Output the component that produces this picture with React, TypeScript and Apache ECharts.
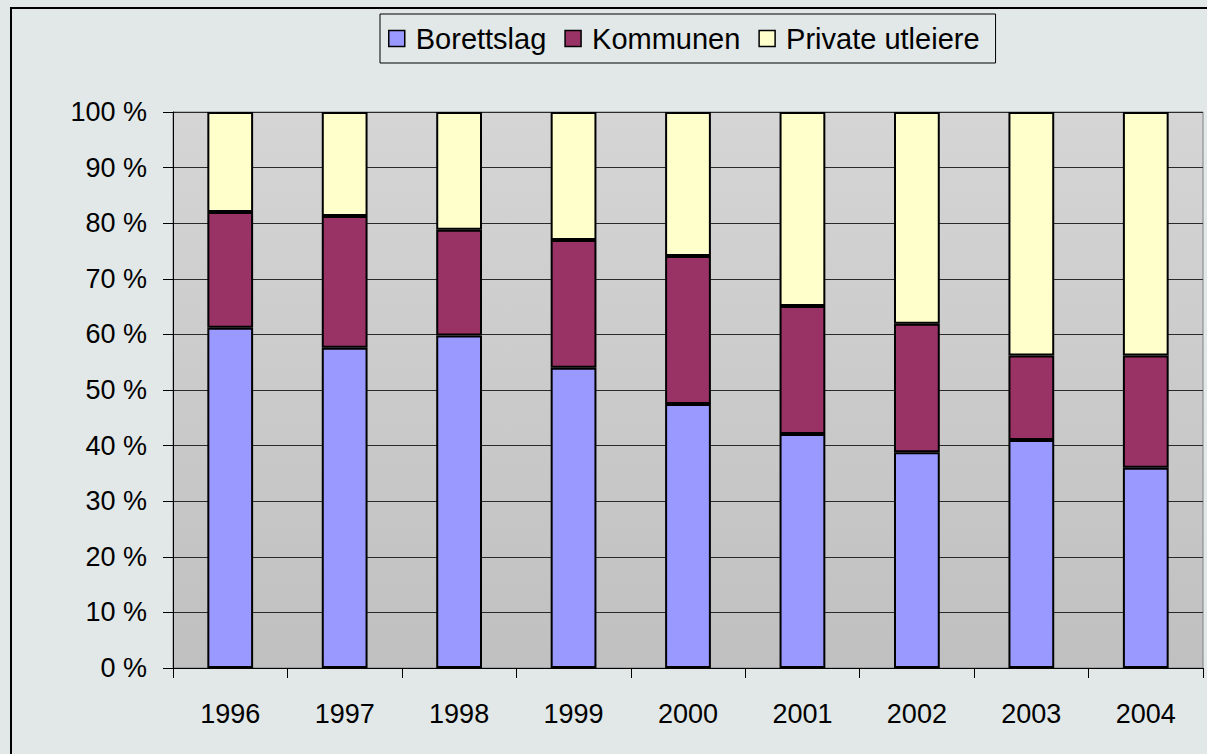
import React, { useEffect, useRef } from "react";
import * as echarts from "echarts";

const years = ["1996", "1997", "1998", "1999", "2000", "2001", "2002", "2003", "2004"];
const borettslag = [61.2, 57.6, 59.8, 54.0, 47.5, 42.1, 38.8, 41.0, 36.0];
const kommunen = [20.8, 23.7, 19.0, 23.0, 26.6, 23.0, 23.1, 15.2, 20.2];
const privateUtleiere = [18.0, 18.7, 21.2, 23.0, 25.9, 34.9, 38.1, 43.8, 43.8];

const FONT = "'Liberation Sans', Arial, sans-serif";

export default function App() {
  const ref = useRef<HTMLDivElement>(null);
  useEffect(() => {
    if (!ref.current) return;
    const chart = echarts.init(ref.current, null, { renderer: "svg" });
    const barStyle = (color: string) => ({ color, borderColor: "#000", borderWidth: 2 });
    chart.setOption({
      animation: false,
      backgroundColor: "#E1E8E7",
      textStyle: { fontFamily: FONT },
      graphic: [
        {
          type: "rect",
          shape: { x: 11, y: 8, width: 1300, height: 900 },
          style: { fill: "none", stroke: "#000", lineWidth: 2 },
          silent: true,
          z: 0,
        },
      ],
      legend: {
        left: 380,
        top: 14,
        padding: [10, 16, 10, 8],
        itemGap: 18,
        itemWidth: 16,
        itemHeight: 16,
        borderColor: "#000",
        borderWidth: 1,
        textStyle: { fontSize: 29, color: "#000", fontFamily: FONT, padding: [0, 0, 0, 6] },
        data: [
          { name: "Borettslag", icon: "rect", itemStyle: { borderColor: "#000", borderWidth: 1.5 } },
          { name: "Kommunen", icon: "rect", itemStyle: { borderColor: "#000", borderWidth: 1.5 } },
          { name: "Private utleiere", icon: "rect", itemStyle: { borderColor: "#000", borderWidth: 1.5 } },
        ],
      },
      grid: {
        left: 173,
        right: 4,
        top: 112,
        bottom: 86,
        show: true,
        borderColor: "#808080",
        borderWidth: 1,
        backgroundColor: new echarts.graphic.LinearGradient(0, 0, 0, 1, [
          { offset: 0, color: "#D5D5D5" },
          { offset: 1, color: "#C0C0C0" },
        ]),
      },
      xAxis: {
        type: "category",
        data: years,
        axisLine: { lineStyle: { color: "#000", width: 1 } },
        axisTick: { show: true, length: 10, lineStyle: { color: "#000" } },
        axisLabel: { fontSize: 27, color: "#000", margin: 32, fontFamily: FONT },
      },
      yAxis: {
        type: "value",
        min: 0,
        max: 100,
        interval: 10,
        axisLine: { show: true, lineStyle: { color: "#000", width: 1 } },
        axisTick: { show: true, length: 10, lineStyle: { color: "#000" } },
        axisLabel: { fontSize: 27, color: "#000", margin: 26, formatter: "{value} %", fontFamily: FONT },
        splitLine: { show: true, lineStyle: { color: "#2a2a2a", width: 1 } },
      },
      series: [
        { name: "Borettslag", type: "bar", stack: "s", barWidth: "40%", data: borettslag, itemStyle: barStyle("#9999FF") },
        { name: "Kommunen", type: "bar", stack: "s", barWidth: "40%", data: kommunen, itemStyle: barStyle("#993366") },
        { name: "Private utleiere", type: "bar", stack: "s", barWidth: "40%", data: privateUtleiere, itemStyle: barStyle("#FFFFCC") },
      ],
    });
    return () => chart.dispose();
  }, []);
  return (
    <div
      ref={ref}
      style={{ position: "absolute", left: 0, top: 0, width: 1207, height: 754 }}
    />
  );
}
